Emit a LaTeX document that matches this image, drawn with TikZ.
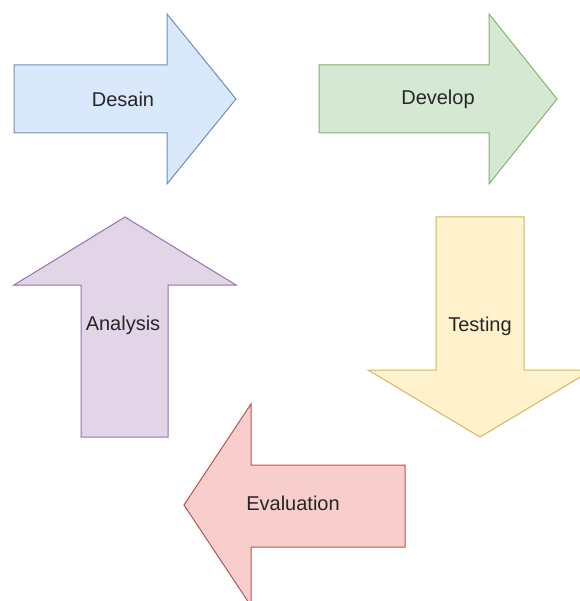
\documentclass[tikz,border=0pt]{standalone}
\usepackage{fontspec}
\setmainfont{Liberation Sans}
\definecolor{bluefill}{HTML}{DAE8FC}\definecolor{bluedraw}{HTML}{6C8EBF}
\definecolor{greenfill}{HTML}{D5E8D4}\definecolor{greendraw}{HTML}{82B366}
\definecolor{purplefill}{HTML}{E1D5E7}\definecolor{purpledraw}{HTML}{9673A6}
\definecolor{yellowfill}{HTML}{FFF2CC}\definecolor{yellowdraw}{HTML}{D6B656}
\definecolor{redfill}{HTML}{F8CECC}\definecolor{reddraw}{HTML}{B85450}
\tikzset{
  arrowshape/.style={line width=1pt, line join=miter},
  lbl/.style={font=\fontsize{20}{24}\selectfont, text=black!85, inner sep=0pt}
}
\begin{document}
\begin{tikzpicture}[x=1pt,y=-1pt]
\useasboundingbox[fill=white] (0,0) rectangle (579,601);
% Desain
\draw[arrowshape, fill=bluefill, draw=bluedraw]
  (14,65) -- (167,65) -- (167,14) -- (236,99) -- (167,184) -- (167,133) -- (14,133) -- cycle;
\node[lbl] (desain) at (123,99) {Desain};
% Develop
\draw[arrowshape, fill=greenfill, draw=greendraw]
  (319,65) -- (489,65) -- (489,14) -- (557,99) -- (489,184) -- (489,133) -- (319,133) -- cycle;
\node[lbl] (develop) at (438,99) {Develop};
% Analysis
\draw[arrowshape, fill=purplefill, draw=purpledraw]
  (81,437) -- (81,285) -- (14,285) -- (125,217) -- (236,285) -- (168,285) -- (168,437) -- cycle;
\node[lbl] (analysis) at (123,325) {Analysis};
% Testing
\draw[arrowshape, fill=yellowfill, draw=yellowdraw]
  (436,217) -- (524,217) -- (524,370) -- (592,370) -- (480,437) -- (368,370) -- (436,370) -- cycle;
\node[lbl] (testing) at (480,326) {Testing};
% Evaluation
\draw[arrowshape, fill=redfill, draw=reddraw]
  (405,465) -- (251,465) -- (251,404) -- (184,505) -- (251,606) -- (251,547) -- (405,547) -- cycle;
\node[lbl] (evaluation) at (293,503) {Evaluation};
\end{tikzpicture}
\end{document}
